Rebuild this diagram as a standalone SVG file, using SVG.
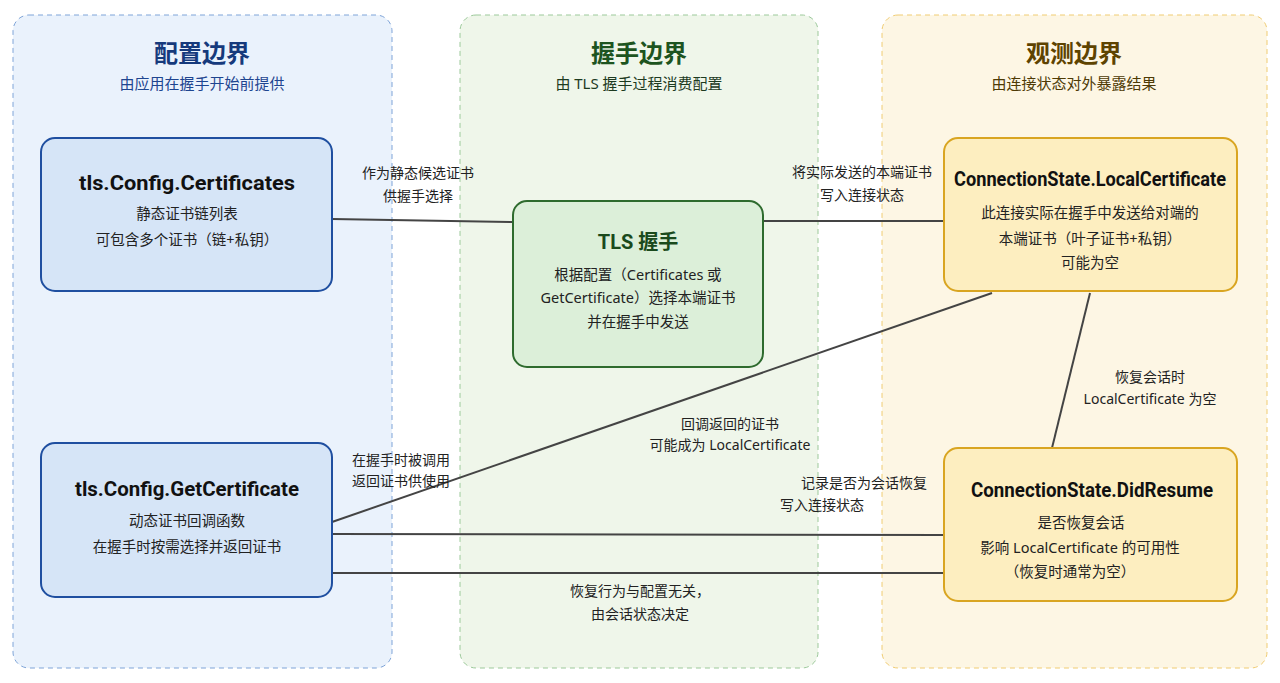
<svg xmlns="http://www.w3.org/2000/svg" width="1280" height="683" viewBox="0 0 1280 683">
<style>
text{font-family:"Noto Sans","Noto Sans CJK SC",sans-serif;text-anchor:middle;fill:#222}
.pt{font-size:24px;font-weight:bold}
.ps{font-size:15px}
.nt{font-family:Roboto,"Noto Sans CJK SC",sans-serif;font-size:20px;font-weight:bold;fill:#111}
.nd{font-size:14.5px}
.lb{font-size:14px}
.conn line{stroke:#444;stroke-width:2}
</style>
<rect x="0" y="0" width="1280" height="683" fill="#fff"/>
<g id="panel-config"><rect x="13" y="15" width="379" height="653" rx="16" fill="#eaf2fc" stroke="#7ea4d8" stroke-dasharray="5,4"/>
<text x="202" y="62" class="pt" style="fill:#163a7c">配置边界</text>
<text x="202" y="89" class="ps" style="fill:#1e4590">由应用在握手开始前提供</text></g>
<g id="panel-handshake"><rect x="460" y="15" width="358" height="653" rx="16" fill="#eff6ea" stroke="#9cc99a" stroke-dasharray="5,4"/>
<text x="639" y="62" class="pt" style="fill:#1d5420">握手边界</text>
<text x="639" y="89" class="ps" style="fill:#1d3a1f">由 TLS 握手过程消费配置</text></g>
<g id="panel-observe"><rect x="882" y="15" width="385" height="653" rx="16" fill="#fdf6e4" stroke="#f0cc72" stroke-dasharray="5,4"/>
<text x="1074" y="62" class="pt" style="fill:#5e4300">观测边界</text>
<text x="1074" y="89" class="ps" style="fill:#4e3a05">由连接状态对外暴露结果</text></g>
<g class="conn" id="connectors">
<line x1="332" y1="219" x2="513" y2="222"/>
<line x1="763" y1="221" x2="944" y2="221"/>
<line x1="332" y1="522" x2="992" y2="293"/>
<line x1="332" y1="534" x2="944" y2="535"/>
<line x1="332" y1="573" x2="944" y2="573"/>
<line x1="1090" y1="293" x2="1052" y2="448"/>
<text x="418" y="178" class="lb">作为静态候选证书</text>
<text x="418" y="201" class="lb">供握手选择</text>
<text x="862" y="177" class="lb">将实际发送的本端证书</text>
<text x="862" y="200" class="lb">写入连接状态</text>
<text x="730" y="429" class="lb">回调返回的证书</text>
<text x="730" y="450" class="lb">可能成为 LocalCertificate</text>
<text x="401" y="465" class="lb">在握手时被调用</text>
<text x="401" y="486" class="lb">返回证书供使用</text>
<text x="864" y="488" class="lb">记录是否为会话恢复</text>
<text x="822" y="510" class="lb">写入连接状态</text>
<text x="640" y="596" class="lb">恢复行为与配置无关，</text>
<text x="640" y="619" class="lb">由会话状态决定</text>
<text x="1150" y="382" class="lb">恢复会话时</text>
<text x="1150" y="404" class="lb">LocalCertificate 为空</text>
</g>
<g id="node-certificates"><rect x="41" y="138" width="291" height="153" rx="14" fill="#d6e5f7" stroke="#1f4fa0" stroke-width="2"/>
<text x="187" y="190" class="nt" textLength="216" lengthAdjust="spacingAndGlyphs">tls.Config.Certificates</text>
<text x="187" y="219" class="nd">静态证书链列表</text>
<text x="187" y="245" class="nd">可包含多个证书（链+私钥）</text></g>
<g id="node-tls"><rect x="513" y="201" width="250" height="166" rx="14" fill="#dcefd9" stroke="#2e6b2e" stroke-width="2"/>
<text x="638" y="249" class="nt" style="fill:#1a4a1c">TLS 握手</text>
<text x="638" y="280" class="nd">根据配置（Certificates 或</text>
<text x="638" y="303" class="nd">GetCertificate）选择本端证书</text>
<text x="638" y="327" class="nd">并在握手中发送</text></g>
<g id="node-localcert"><rect x="944" y="138" width="293" height="153" rx="14" fill="#fdeec0" stroke="#d9a521" stroke-width="2"/>
<text x="1090" y="186" class="nt" textLength="272" lengthAdjust="spacingAndGlyphs">ConnectionState.LocalCertificate</text>
<text x="1090" y="218" class="nd">此连接实际在握手中发送给对端的</text>
<text x="1090" y="244" class="nd">本端证书（叶子证书+私钥）</text>
<text x="1090" y="268" class="nd">可能为空</text></g>
<g id="node-getcert"><rect x="41" y="443" width="291" height="154" rx="14" fill="#d6e5f7" stroke="#1f4fa0" stroke-width="2"/>
<text x="187" y="496" class="nt" textLength="224" lengthAdjust="spacingAndGlyphs">tls.Config.GetCertificate</text>
<text x="187" y="526" class="nd">动态证书回调函数</text>
<text x="187" y="552" class="nd">在握手时按需选择并返回证书</text></g>
<g id="node-didresume"><rect x="944" y="448" width="293" height="153" rx="14" fill="#fdeec0" stroke="#d9a521" stroke-width="2"/>
<text x="1092" y="497" class="nt" textLength="242" lengthAdjust="spacingAndGlyphs">ConnectionState.DidResume</text>
<text x="1081" y="528" class="nd">是否恢复会话</text>
<text x="1080" y="553" class="nd">影响 LocalCertificate 的可用性</text>
<text x="1070" y="577" class="nd">（恢复时通常为空）</text></g>
</svg>
